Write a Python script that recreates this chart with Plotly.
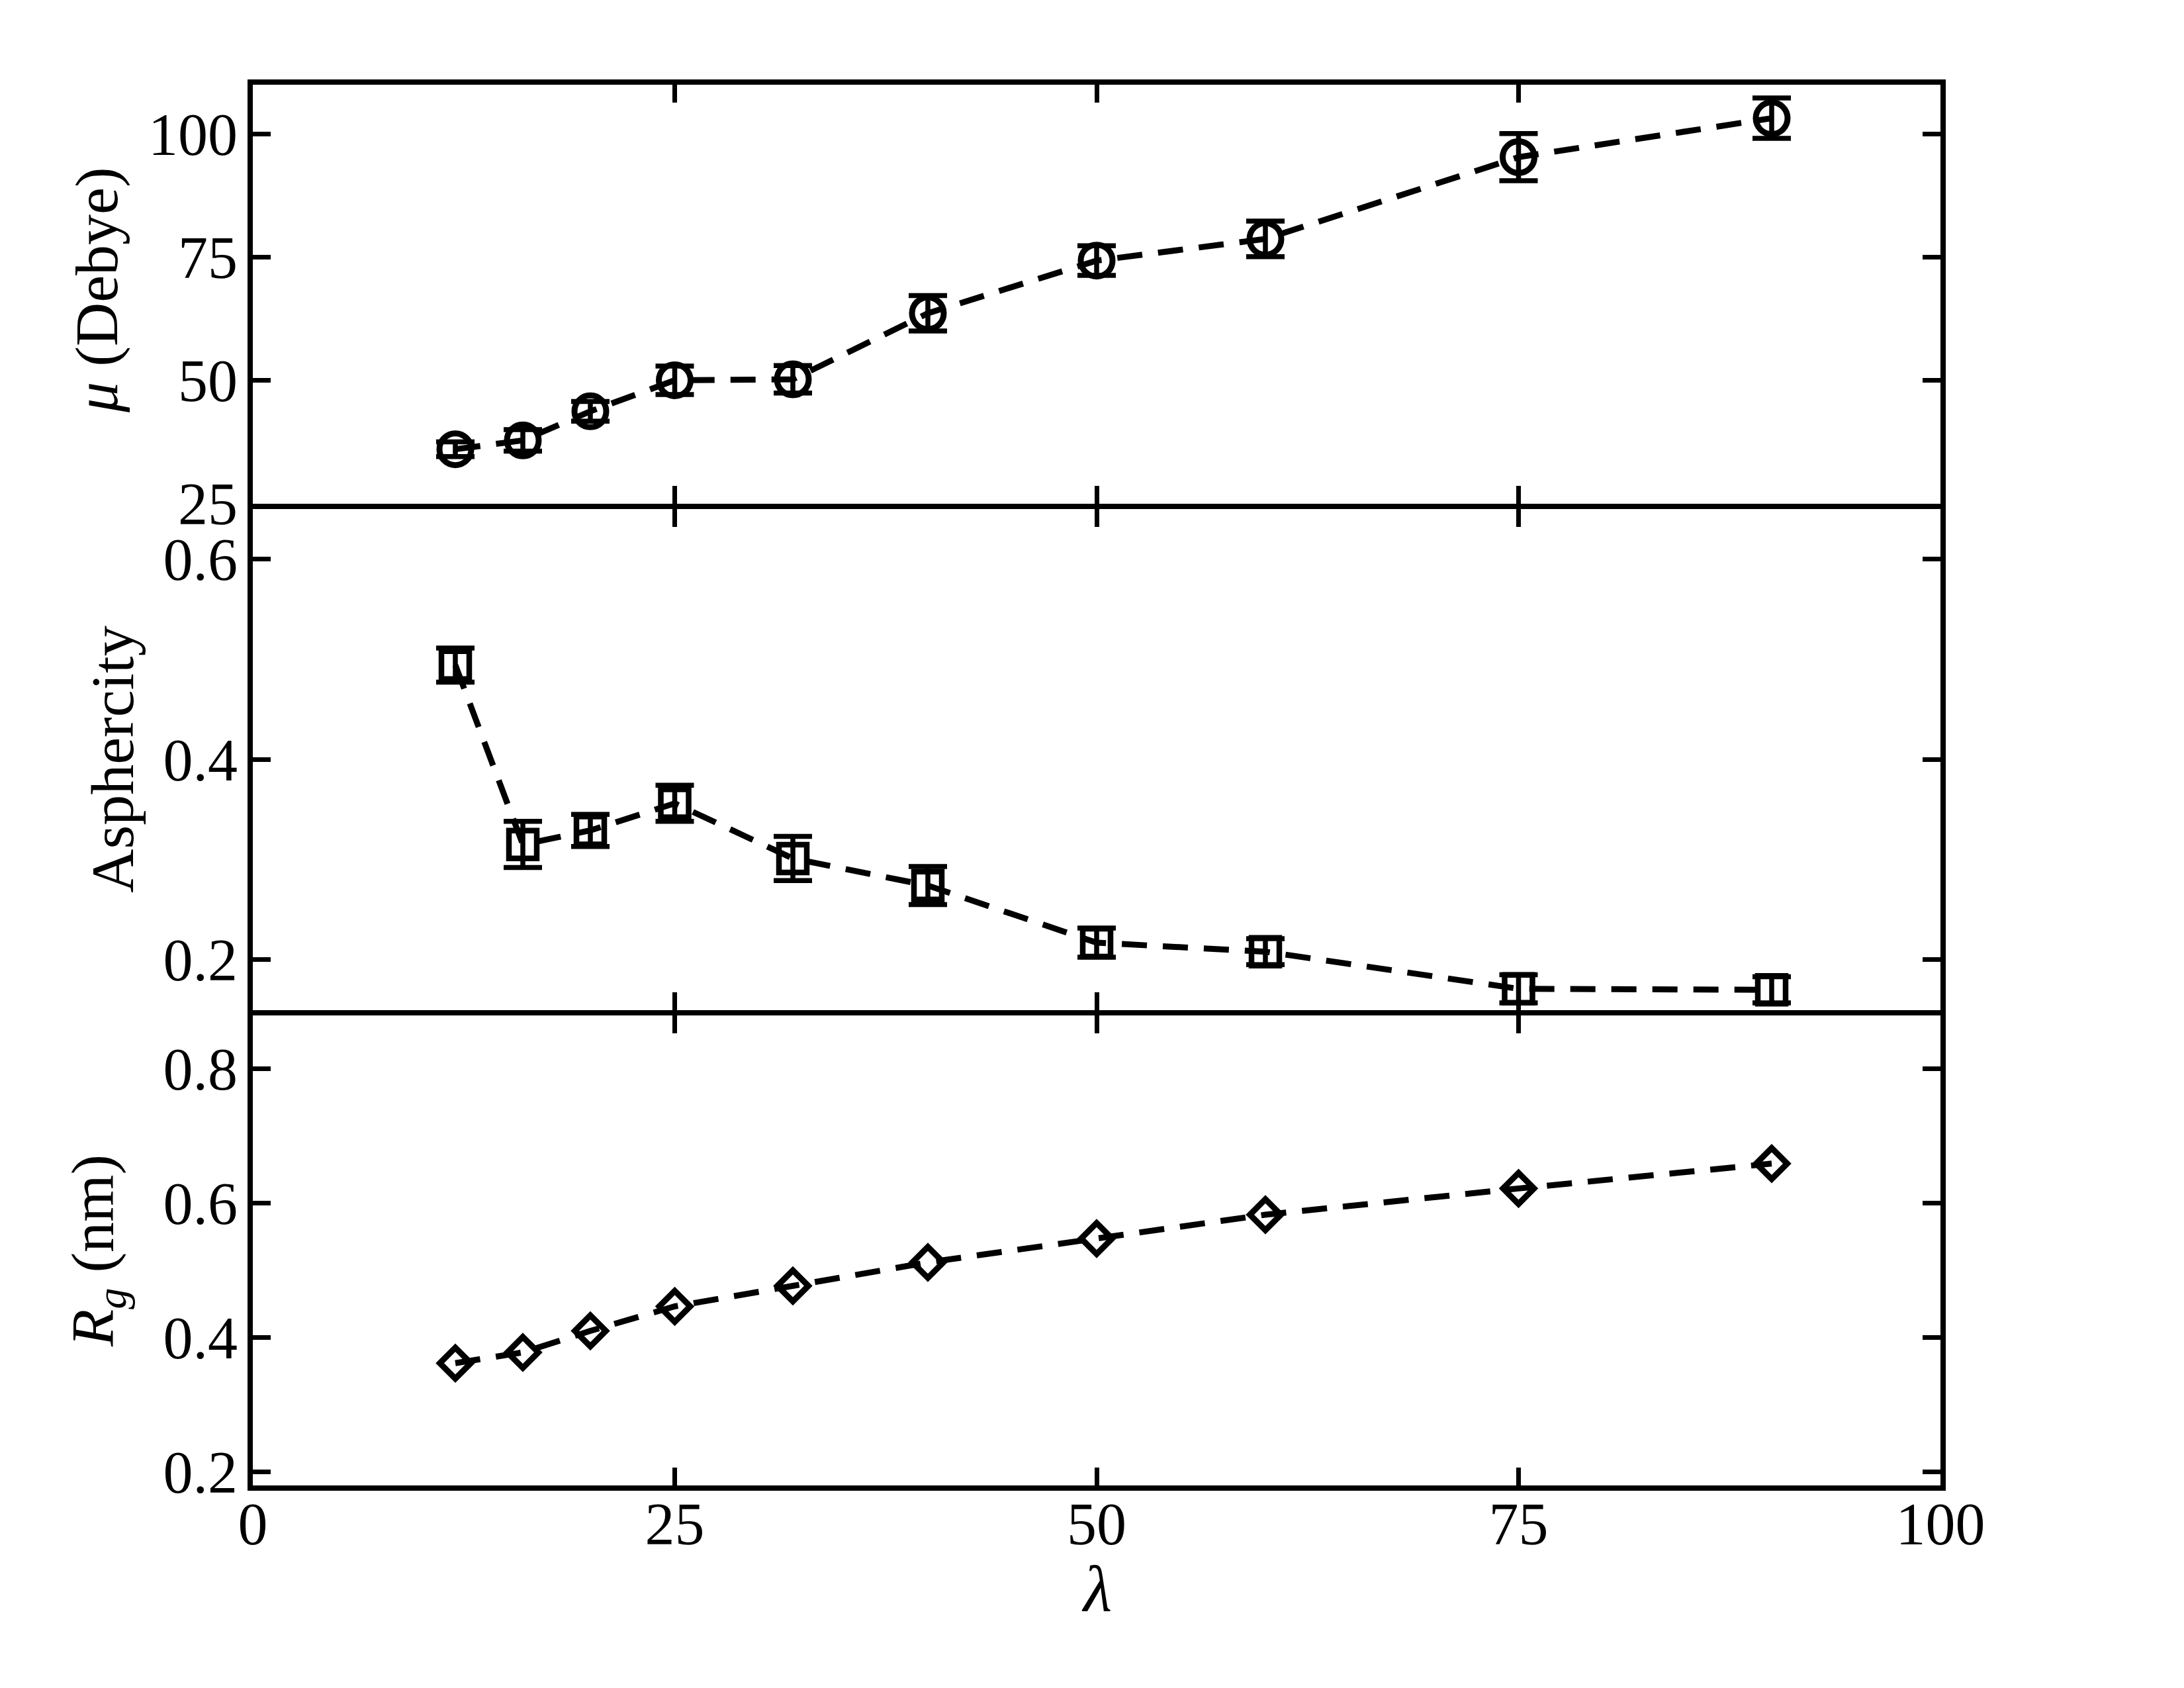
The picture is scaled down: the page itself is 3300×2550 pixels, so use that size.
import plotly.graph_objects as go
from plotly.subplots import make_subplots

# ---- data ----
lam = [12, 16, 20, 25, 32, 40, 50, 60, 75, 90]
mu = [36.0, 37.8, 43.7, 50.0, 50.2, 63.6, 74.3, 78.7, 95.3, 103.2]
mu_err = [1.5, 2.2, 2.0, 2.9, 2.8, 3.6, 3.0, 3.6, 4.8, 4.1]
asph = [0.494, 0.315, 0.329, 0.356, 0.301, 0.274, 0.217, 0.208, 0.171, 0.170]
asph_err = [0.017, 0.023, 0.016, 0.018, 0.022, 0.019, 0.0145, 0.013, 0.014, 0.013]
rg = [0.362, 0.378, 0.410, 0.4465, 0.477, 0.512, 0.5475, 0.583, 0.622, 0.659]

x_ticks = [0, 25, 50, 75, 100]
mu_ticks = [25, 50, 75, 100]
asph_ticks = [0.2, 0.4, 0.6]
asph_ticklabels = ["0.2", "0.4", "0.6"]
rg_ticks = [0.2, 0.4, 0.6, 0.8]
rg_ticklabels = ["0.2", "0.4", "0.6", "0.8"]

FONT = "Liberation Serif"
W, H = 3300, 2550
OFF = 8  # default page body margin shifts the figure by this much on screen
# target on-screen plot box (data range ends): x 382..2932, y 128..2244
ML = 382 - OFF
MR = W - (2932 - OFF)
MT = 128 - OFF
MB = H - (2244 - OFF)
PW, PH = W - ML - MR, H - MT - MB

def px_x(p):  # on-screen pixel -> paper
    return (p - OFF - ML) / PW

def px_y(p):
    return (H - MB - (p - OFF)) / PH

fig = make_subplots(rows=3, cols=1, shared_xaxes=True, vertical_spacing=0)

line_style = dict(color="black", width=9, dash="38px,24px")
err_style = dict(type="data", visible=True, color="black", thickness=7.5, width=29)

fig.add_trace(go.Scatter(
    x=lam, y=mu, mode="lines+markers",
    line=line_style,
    marker=dict(symbol="circle-open", size=48, color="black", line=dict(width=9, color="black")),
    error_y=dict(array=mu_err, **err_style),
    showlegend=False), row=1, col=1)

fig.add_trace(go.Scatter(
    x=lam, y=asph, mode="lines+markers",
    line=line_style,
    marker=dict(symbol="square-open", size=42, color="black", line=dict(width=8.5, color="black")),
    error_y=dict(array=asph_err, **err_style),
    showlegend=False), row=2, col=1)

fig.add_trace(go.Scatter(
    x=lam, y=rg, mode="lines+markers",
    line=line_style,
    marker=dict(symbol="diamond-open", size=36, color="black", line=dict(width=9, color="black")),
    showlegend=False), row=3, col=1)

LW = 8
# panel pixel edges chosen so that the adjoining axis lines coincide
dom_top = [px_y(764.5 - LW / 2), 1]
dom_mid = [px_y(1529.5 - LW / 2), px_y(764.5 + LW / 2)]
dom_bot = [0, px_y(1529.5 + LW / 2)]

axis_common = dict(showline=True, linecolor="black", linewidth=LW, mirror="ticks",
                   ticks="inside", ticklen=27, tickwidth=7, tickcolor="black",
                   showgrid=False, zeroline=False,
                   tickfont=dict(family=FONT, size=90, color="black"))

for i in [1, 2, 3]:
    fig.update_xaxes(range=[0, 100], tickvals=x_ticks, domain=[0, 1],
                     showticklabels=(i == 3), ticklabelstandoff=-27,
                     row=i, col=1, **axis_common)

fig.update_yaxes(range=[25, 110], tickvals=mu_ticks, domain=dom_top,
                 ticklabelstandoff=-3, row=1, col=1, **axis_common)
fig.update_yaxes(range=[0.15, 0.65], tickvals=asph_ticks, ticktext=asph_ticklabels,
                 domain=dom_mid, ticklabelstandoff=-3, row=2, col=1, **axis_common)
fig.update_yaxes(range=[0.18, 0.88], tickvals=rg_ticks, ticktext=rg_ticklabels,
                 domain=dom_bot, ticklabelstandoff=-3, row=3, col=1, **axis_common)

title_font = dict(family=FONT, size=92, color="black")
annotations = [
    dict(text="<i>μ</i> (Debye)", x=px_x(146), y=px_y(438), textangle=-90, font=title_font),
    dict(text="Asphercity", x=px_x(170), y=px_y(1147), textangle=-90, font=title_font),
    dict(text="<i>R</i><sub><i>g</i></sub> (nm)", x=px_x(146), y=px_y(1890), textangle=-90,
         font=title_font),
    dict(text="<i>λ</i>", x=px_x(1657), y=px_y(2400), textangle=0,
         font=dict(family=FONT, size=100, color="black")),
]
for a in annotations:
    fig.add_annotation(xref="paper", yref="paper", showarrow=False,
                       xanchor="center", yanchor="middle", **a)

fig.update_layout(
    width=W, height=H,
    margin=dict(l=ML, r=MR, t=MT, b=MB),
    paper_bgcolor="white", plot_bgcolor="white",
    font=dict(family=FONT, color="black"),
    showlegend=False,
)

fig.write_html("out.html")
